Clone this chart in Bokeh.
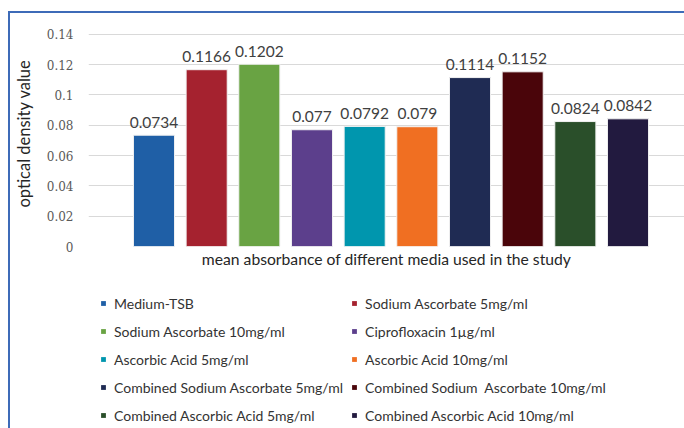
from bokeh.plotting import figure
from bokeh.layouts import column
from bokeh.models import ColumnDataSource, Range1d, FixedTicker, Legend, LegendItem
from bokeh.core.properties import value
from bokeh.embed import file_html
from bokeh.resources import INLINE

categories = [
    "Medium-TSB",
    "Sodium Ascorbate 5mg/ml",
    "Sodium Ascorbate 10mg/ml",
    "Ciprofloxacin 1\u00b5g/ml",
    "Ascorbic Acid 5mg/ml",
    "Ascorbic Acid 10mg/ml",
    "Combined Sodium Ascorbate 5mg/ml",
    "Combined Sodium  Ascorbate 10mg/ml",
    "Combined Ascorbic Acid 5mg/ml",
    "Combined Ascorbic Acid 10mg/ml",
]
values = [0.0734, 0.1166, 0.1202, 0.077, 0.0792, 0.079, 0.1114, 0.1152, 0.0824, 0.0842]
value_labels = ["0.0734", "0.1166", "0.1202", "0.077", "0.0792", "0.079", "0.1114", "0.1152", "0.0824", "0.0842"]
colors = ["#1f5fa6", "#a5222f", "#69a343", "#5c3f8c", "#0096ae", "#f06f22",
          "#1f2b53", "#4a050a", "#2a4f2a", "#221a3f"]
y_ticks = [0, 0.02, 0.04, 0.06, 0.08, 0.1, 0.12, 0.14]
y_tick_labels = ["0", "0.02", "0.04", "0.06", "0.08", "0.1", "0.12", "0.14"]

positions = list(range(len(categories)))

# ---------------- chart ----------------
p = figure(width=674, height=267, output_backend="svg", toolbar_location=None,
           x_range=Range1d(-1.2436, 10.0727), y_range=Range1d(0, 0.14904),
           min_border_left=78, min_border_right=0, min_border_top=7, min_border_bottom=34)
p.outline_line_color = None
p.background_fill_color = "white"
p.border_fill_color = "white"

p.xgrid.grid_line_color = None
p.ygrid.grid_line_color = "#d9d9d9"
p.ygrid.grid_line_width = 1
p.ygrid.ticker = FixedTicker(ticks=y_ticks)

p.yaxis.ticker = FixedTicker(ticks=y_ticks)
p.yaxis.major_label_overrides = {t: l for t, l in zip(y_ticks, y_tick_labels)}
p.yaxis.axis_line_color = None
p.yaxis.major_tick_line_color = None
p.yaxis.minor_tick_line_color = None
p.yaxis.major_tick_in = 0
p.yaxis.major_tick_out = 0
p.yaxis.major_label_standoff = 15
p.yaxis.major_label_text_font = "DejaVu Serif"
p.yaxis.major_label_text_font_size = "12px"
p.yaxis.major_label_text_color = "#595959"
p.yaxis.axis_label = "optical density value"
p.yaxis.axis_label_text_font = "Lato"
p.yaxis.axis_label_text_font_style = "normal"
p.yaxis.axis_label_text_font_size = "16.5px"
p.yaxis.axis_label_text_color = "#262626"
p.yaxis.axis_label_standoff = 10

p.xaxis.ticker = FixedTicker(ticks=[])
p.xaxis.axis_line_color = None
p.xaxis.major_tick_line_color = None
p.xaxis.minor_tick_line_color = None
p.xaxis.major_label_text_font_size = "0px"
p.xaxis.axis_label = "mean absorbance of different media used in the study"
p.xaxis.axis_label_text_font = "Lato"
p.xaxis.axis_label_text_font_style = "normal"
p.xaxis.axis_label_text_font_size = "15.7px"
p.xaxis.axis_label_text_color = "#262626"
p.xaxis.axis_label_standoff = 3

for i, (val, col) in enumerate(zip(values, colors)):
    src = ColumnDataSource(dict(x=[positions[i]], top=[val], lab=[value_labels[i]]))
    p.vbar(x="x", top="top", bottom=0, width=0.78, source=src,
           fill_color=col, line_color="#f2f2f2", line_width=1)
    p.text(x="x", y="top", text="lab", source=src, text_align="center",
           text_baseline="alphabetic", y_offset=-13,
           text_font=value("Lato"), text_font_size="15.5px", text_color="#404040")

# ---------------- legend panel ----------------
q = figure(width=674, height=148, output_backend="svg", toolbar_location=None,
           x_axis_location=None, y_axis_location=None,
           x_range=Range1d(-1.2436, 10.0727), y_range=Range1d(10, 11),
           min_border_left=0, min_border_right=0, min_border_top=0, min_border_bottom=0)
q.grid.visible = False
q.outline_line_color = None
q.background_fill_color = "white"
q.border_fill_color = "white"

items = []
for i, (cat, val, col) in enumerate(zip(categories, values, colors)):
    src = ColumnDataSource(dict(x=[positions[i]], top=[val]))
    r = q.vbar(x="x", top="top", bottom=0, width=0.78, source=src,
               fill_color=col, line_color=None)
    items.append(LegendItem(label=cat, renderers=[r]))

legend = Legend(items=items, location=(12, 3), orientation="horizontal", ncols=2,
                glyph_width=6, glyph_height=6, label_height=20, spacing=8,
                label_standoff=8, padding=0, margin=0,
                border_line_color=None, background_fill_alpha=0,
                label_text_font="Lato", label_text_font_size="14px",
                label_text_color="#333333")
q.add_layout(legend, "center")

layout = column(p, q, spacing=0)
layout.styles = {"margin-left": "8px", "margin-top": "11px",
                 "border-left": "2px solid #3d6bb8", "border-top": "2px solid #3d6bb8"}

open("out.html", "w").write(file_html(layout, INLINE))
